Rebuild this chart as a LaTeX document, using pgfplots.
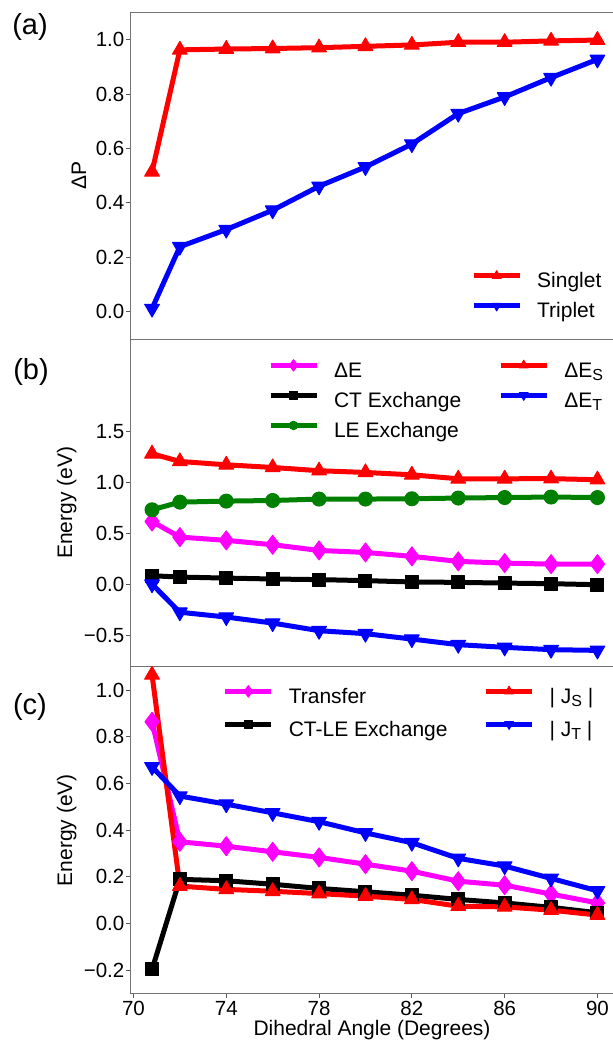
\documentclass[border=0pt]{standalone}
\usepackage{fontspec}
\setmainfont{Liberation Sans}
\usepackage{pgfplots}
\usepackage{pgfplotstable}
\pgfplotsset{compat=1.18}
\definecolor{mygreen}{RGB}{0,128,0}
\definecolor{mymag}{RGB}{255,0,255}
\definecolor{myred}{RGB}{255,0,0}
\definecolor{myblue}{RGB}{0,0,255}

\pgfplotstableread{
x     singlet triplet
70.8  0.514   0.012
72    0.962   0.239
74    0.965   0.302
76    0.967   0.373
78    0.970   0.461
80    0.975   0.532
82    0.980   0.616
84    0.990   0.728
86    0.990   0.789
88    0.995   0.860
90    0.998   0.927
}\tabA

\pgfplotstableread{
x     dE     ct     le     dES    dET
70.8  0.620  0.088  0.735  1.284  0.005
72    0.467  0.075  0.810  1.209  -0.270
74    0.435  0.065  0.820  1.176  -0.317
76    0.392  0.056  0.826  1.150  -0.376
78    0.336  0.050  0.840  1.118  -0.451
80    0.317  0.040  0.840  1.101  -0.480
82    0.278  0.027  0.843  1.078  -0.533
84    0.229  0.023  0.850  1.039  -0.588
86    0.212  0.016  0.855  1.039  -0.614
88    0.202  0.010  0.860  1.040  -0.637
90    0.202  0.000  0.855  1.030  -0.644
}\tabB

\pgfplotstableread{
x     tr     ctle    js     jt
70.8  0.864  -0.197  1.065  0.671
72    0.350  0.189   0.160  0.546
74    0.331  0.183   0.146  0.511
76    0.307  0.168   0.138  0.474
78    0.283  0.150   0.128  0.436
80    0.254  0.136   0.117  0.388
82    0.224  0.121   0.103  0.346
84    0.181  0.103   0.074  0.279
86    0.164  0.088   0.071  0.246
88    0.126  0.069   0.057  0.193
90    0.088  0.046   0.036  0.140
}\tabC

\newcommand{\sub}[1]{\raisebox{-0.3ex}{\fontsize{16}{16}\selectfont #1}}
\newcommand{\labfont}{\fontsize{21}{25}\selectfont}

\begin{document}
\begin{tikzpicture}[x=1pt,y=1pt]
\path[use as bounding box] (0,0) rectangle (613,1042);
\pgfplotsset{
  panel/.style={
    scale only axis, width=486pt, xmin=69.85, xmax=90.8,
    axis line style={draw=black!55, line width=0.9pt},
    tick style={draw=black!65, line width=0.9pt},
    major tick length=4pt, tick align=outside,
    xtick pos=bottom, ytick pos=left,
    ticklabel style={font=\fontsize{20.5}{24}\selectfont},
    yticklabel style={inner xsep=1.5pt},
    legend style={draw=none, fill=none, font=\labfont,
      inner sep=0pt, outer sep=0pt, nodes={inner sep=0pt, text height=15pt, text depth=5pt},
      /tikz/every odd column/.append style={column sep=15pt},
      /tikz/every even column/.append style={column sep=37pt}},
    legend cell align=left,
    legend image code/.code={\draw[mark repeat=2,mark phase=2,yshift=7pt,##1,every mark/.append style={scale=0.6}] plot coordinates {(0pt,0pt) (23pt,0pt) (46pt,0pt)};},
  },
  ser/.style={line width=5pt, line join=round, mark options={solid, line width=1pt}},
  sRed/.style={ser, myred, mark=triangle*, mark size=8.5pt},
  sBlue/.style={ser, myblue, mark=triangle*, mark size=8.5pt, mark options={solid, line width=1pt, rotate=180}},
  sMag/.style={ser, mymag, mark=diamond*, mark size=9.5pt},
  sBlk/.style={ser, black, mark=square*, mark size=6.5pt},
  sGrn/.style={ser, mygreen, mark=*, mark size=7pt},
}

% ---------- (a)
\begin{axis}[panel, at={(130pt,703pt)}, anchor=south west, height=326.7pt,
  ymin=-0.1, ymax=1.1, xtick=\empty,
  ytick={0,0.2,0.4,0.6,0.8,1.0}, yticklabels={0.0,0.2,0.4,0.6,0.8,1.0},
  ylabel={ΔP}, ylabel style={font=\labfont, at={(axis description cs:-0.105,0.5)}, anchor=center},
  legend style={at={(axis description cs:0.702,0.209)}, anchor=north west, row sep=10pt},
]
\addplot[sRed, forget plot] table[x=x, y=singlet] {\tabA};
\addplot[sBlue, forget plot] table[x=x, y=triplet] {\tabA};
\addlegendimage{sRed}\addlegendentry{Singlet}
\addlegendimage{sBlue}\addlegendentry{Triplet}
\end{axis}

% ---------- (b)
\begin{axis}[panel, at={(130pt,375.3pt)}, anchor=south west, height=327.7pt,
  ymin=-0.804, ymax=2.41, xtick=\empty,
  ytick={-0.5,0,0.5,1,1.5}, yticklabels={−0.5,0.0,0.5,1.0,1.5},
  ylabel={Energy (eV)}, ylabel style={font=\labfont, at={(axis description cs:-0.13,0.5)}, anchor=center},
  legend columns=2,
  legend style={at={(axis description cs:0.284,0.937)}, anchor=north west, row sep=9pt},
]
\addplot[sMag, forget plot] table[x=x, y=dE] {\tabB};
\addplot[sBlk, forget plot] table[x=x, y=ct] {\tabB};
\addplot[sGrn, forget plot] table[x=x, y=le] {\tabB};
\addplot[sRed, forget plot] table[x=x, y=dES] {\tabB};
\addplot[sBlue, forget plot] table[x=x, y=dET] {\tabB};
\addlegendimage{sMag}\addlegendentry{ΔE}
\addlegendimage{sRed}\addlegendentry{ΔE\sub{S}}
\addlegendimage{sBlk}\addlegendentry{CT Exchange}
\addlegendimage{sBlue}\addlegendentry{ΔE\sub{T}}
\addlegendimage{sGrn}\addlegendentry{LE Exchange}
\end{axis}

% ---------- (c)
\begin{axis}[panel, at={(130pt,48.5pt)}, anchor=south west, height=326.8pt,
  ymin=-0.30, ymax=1.10,
  xtick={70,74,78,82,86,90}, xticklabels={70,74,78,82,86,90},
  ytick={-0.2,0,0.2,0.4,0.6,0.8,1.0}, yticklabels={−0.2,0.0,0.2,0.4,0.6,0.8,1.0},
  ylabel={Energy (eV)}, ylabel style={font=\labfont, at={(axis description cs:-0.13,0.5)}, anchor=center},
  xlabel={Dihedral Angle (Degrees)}, xlabel style={font=\labfont, at={(axis description cs:0.498,-0.1117)}, anchor=center},
  legend columns=2,
  legend style={at={(axis description cs:0.191,0.942)}, anchor=north west, row sep=12pt,
    /tikz/every even column/.append style={column sep=36pt}},
]
\addplot[sMag, forget plot] table[x=x, y=tr] {\tabC};
\addplot[sBlk, forget plot] table[x=x, y=ctle] {\tabC};
\addplot[sRed, forget plot] table[x=x, y=js] {\tabC};
\addplot[sBlue, forget plot] table[x=x, y=jt] {\tabC};
\addlegendimage{sMag}\addlegendentry{Transfer}
\addlegendimage{sRed}\addlegendentry{| J\sub{S} |}
\addlegendimage{sBlk}\addlegendentry{CT-LE Exchange}
\addlegendimage{sBlue}\addlegendentry{| J\sub{T} |}
\end{axis}

\node[font=\fontsize{29}{34}\selectfont] at (30pt,1015pt) {(a)};
\node[font=\fontsize{29}{34}\selectfont] at (31pt,670pt) {(b)};
\node[font=\fontsize{29}{34}\selectfont] at (30pt,335pt) {(c)};
\end{tikzpicture}
\end{document}
